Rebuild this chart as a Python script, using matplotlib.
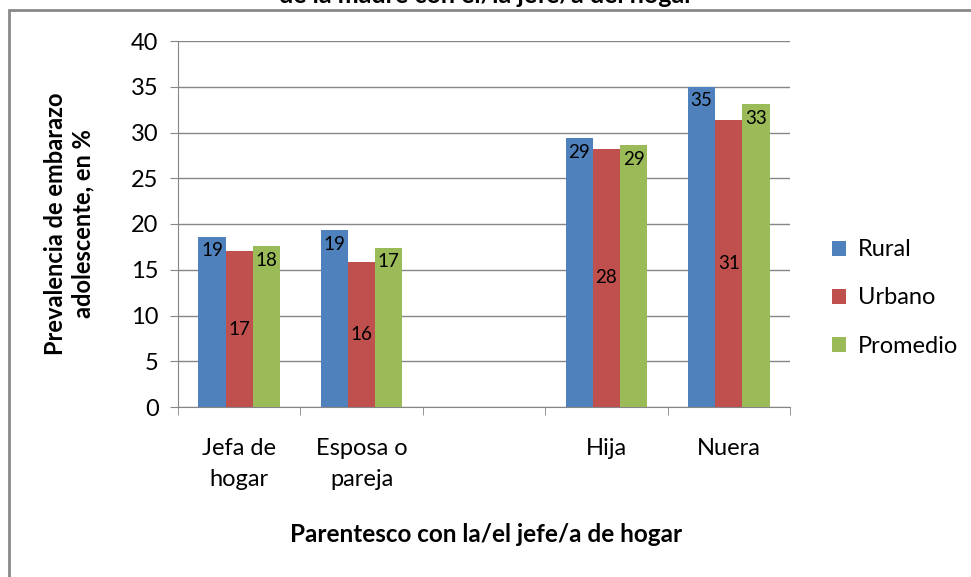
import numpy as np
import matplotlib
matplotlib.use("Agg")
from matplotlib import pyplot as plt
from matplotlib.patches import Rectangle

# DATA
categories = ["Jefa de\nhogar", "Esposa o\npareja", "", "Hija", "Nuera"]
rural = [18.6, 19.3, np.nan, 29.4, 35.0]
urbano = [17.0, 15.9, np.nan, 28.2, 31.4]
promedio = [17.6, 17.4, np.nan, 28.6, 33.1]
series_names = ["Rural", "Urbano", "Promedio"]
colors = ["#4F81BD", "#C0504D", "#9BBB59"]

plt.rcParams["font.family"] = ["Lato", "DejaVu Sans"]
grey = "#868686"

fig = plt.figure(figsize=(9.71, 5.77), dpi=100)
ax = fig.add_axes([178 / 971, 1 - 407 / 577, 612 / 971, 366 / 577])

x = np.arange(len(categories))
w = 1 / 4.5
all_series = [rural, urbano, promedio]
for i, (vals, name, c) in enumerate(zip(all_series, series_names, colors)):
    vals = np.array(vals, dtype=float)
    xs = x + (i - 1) * w
    ax.bar(xs, np.nan_to_num(vals), width=w, color=c, label=name, linewidth=0)
    for xi, v in zip(xs, vals):
        if np.isnan(v):
            continue
        if name == "Urbano":
            ax.text(xi, v / 2, "%d" % round(v), ha="center", va="center", fontsize=13.5)
        else:
            ax.annotate("%d" % round(v), (xi, v), xytext=(0, -4), textcoords="offset points",
                        ha="center", va="top", fontsize=13.5)

ax.set_xlim(-0.5, len(categories) - 0.5)
ax.set_ylim(0, 40)
ax.set_yticks(np.arange(0, 41, 5))
ax.yaxis.grid(True, color=grey, linewidth=1)
ax.set_axisbelow(True)

ax.set_xticks(x)
ax.set_xticklabels(categories, linespacing=1.6)
ax.set_xticks(np.arange(-0.5, len(categories), 1), minor=True)
ax.tick_params(axis="x", which="major", length=0, pad=22, labelsize=17)
ax.tick_params(axis="x", which="minor", length=6, color=grey, direction="out")
ax.tick_params(axis="y", length=6, color=grey, labelsize=17, pad=8)

for s in ["top", "right"]:
    ax.spines[s].set_visible(False)
for s in ["left", "bottom"]:
    ax.spines[s].set_color(grey)

ax.set_ylabel("Prevalencia de embarazo\nadolescente, en %", fontsize=17, fontweight="bold",
              labelpad=26, linespacing=1.25)
fig.text(486 / 971, 1 - 535 / 577, "Parentesco con la/el jefe/a de hogar", ha="center", va="center",
         fontsize=17.5, fontweight="bold")

# title, mostly cut off by the top edge
fig.text(486 / 971, 1 - 3 / 577, "Prevalencia de embarazo adolescente según parentesco\nde la madre con el/la jefe/a del hogar",
         ha="center", va="baseline", fontsize=18, fontweight="bold")

fig.legend(loc="center left", bbox_to_anchor=(811 / 971, 1 - 298 / 577), frameon=False,
           fontsize=17, handlelength=0.6, handleheight=0.6, handletextpad=0.5, labelspacing=1.15)

fig.patches.append(Rectangle((9 / 971, -0.1), 1.1, 1 - 10 / 577 + 0.1, transform=fig.transFigure,
                             fill=False, edgecolor="#898989", linewidth=2))

fig.savefig("out.png", dpi=100)
